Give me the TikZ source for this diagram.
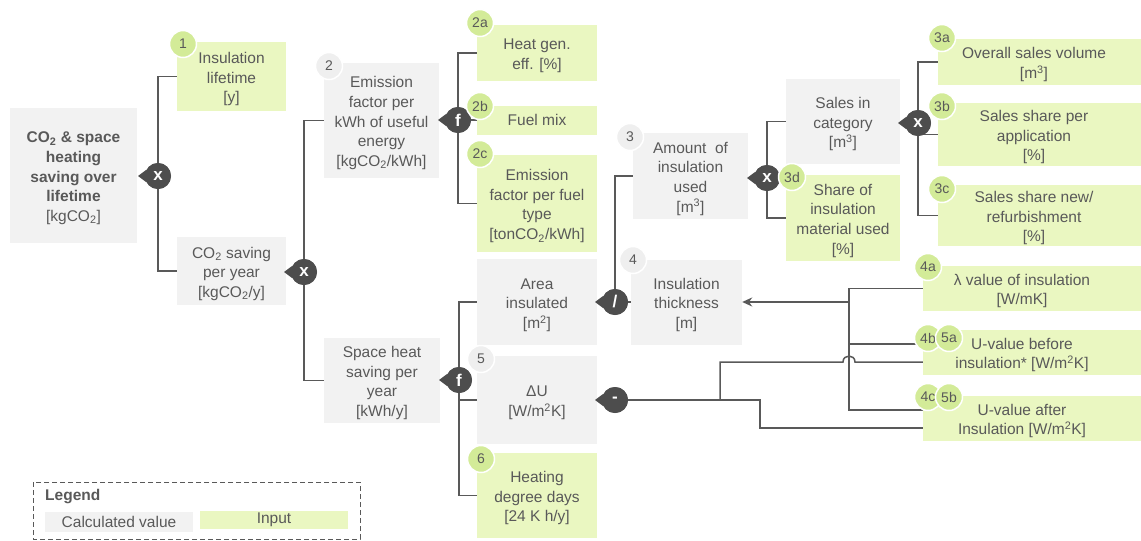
\documentclass[tikz,border=0pt]{standalone}
\usepackage{fontspec}
\setmainfont{Liberation Sans}
\usetikzlibrary{arrows.meta}
\definecolor{txt}{HTML}{595959}
\definecolor{grayfill}{HTML}{F2F2F2}
\definecolor{greenfill}{HTML}{EAF7C1}
\definecolor{badgegreen}{HTML}{D3EB98}
\definecolor{badgegray}{HTML}{EFEFEF}
\definecolor{opfill}{HTML}{4D4D4D}
\definecolor{linec}{HTML}{595959}
\newcommand{\sbs}[1]{\textsubscript{#1}}
\newcommand{\sps}[1]{\textsuperscript{#1}}
\newcommand{\tstrut}{\rule{0pt}{16.5pt}}
\begin{document}
\begin{tikzpicture}[x=1pt,y=-1pt,
  every node/.style={font=\fontsize{15.5}{19.6}\selectfont, text=txt},
  calcbox/.style={fill=grayfill, align=center, inner sep=0pt},
  inbox/.style={fill=greenfill, align=center, inner sep=0pt},
  conn/.style={draw=linec, line width=1.5pt},
  opnode/.style={circle, fill=opfill, text=white, minimum size=26pt, inner sep=0pt, font=\fontsize{17}{17}\selectfont\bfseries},
  badge/.style={circle, fill=badgegreen, draw=white, line width=1.5pt, minimum size=27pt, inner sep=0pt, font=\fontsize{14}{14}\selectfont},
  badgeg/.style={badge, fill=badgegray},
]
\useasboundingbox (0,0) rectangle (1141,541);

% ---------- boxes ----------
\node[calcbox, minimum width=127pt, minimum height=135pt] (main) at (73.5,175.5)
  {\tstrut\textbf{CO\sbs{2} \& space}\\\textbf{heating}\\\textbf{saving over}\\\textbf{lifetime}\\{}[kgCO\sbs{2}]};
\node[inbox, minimum width=109pt, minimum height=69pt] (b1) at (231.5,76.5) {\tstrut Insulation\\lifetime\\{}[y]};
\node[calcbox, minimum width=109pt, minimum height=68pt] (co2y) at (231.5,271) {\tstrut CO\sbs{2} saving\\per year\\{}[kgCO\sbs{2}/y]};
\node[calcbox, minimum width=115pt, minimum height=115pt] (b2) at (381.5,120.5) {\tstrut Emission\\factor per\\kWh of useful\\energy\\{}[kgCO\sbs{2}/kWh]};
\node[inbox, minimum width=120pt, minimum height=56pt] (b2a) at (537,53) {\tstrut Heat gen.\\eff. [\%]};
\node[inbox, minimum width=120pt, minimum height=29pt] (b2b) at (537,120) {Fuel mix};
\node[inbox, minimum width=120pt, minimum height=97pt] (b2c) at (537,203.5) {\tstrut Emission\\factor per fuel\\type\\{}[tonCO\sbs{2}/kWh]};
\node[calcbox, minimum width=116pt, minimum height=85pt] (shs) at (382,380.5) {\tstrut Space heat\\saving per\\year\\{}[kWh/y]};
\node[calcbox, minimum width=120pt, minimum height=86pt] (area) at (537,302) {\tstrut Area\\insulated\\{}[m\sps{2}]};
\node[calcbox, minimum width=120pt, minimum height=88pt] (dU) at (537,400) {\tstrut ΔU\\{}[W/m\sps{2}K]};
\node[inbox, minimum width=120pt, minimum height=85pt] (hdd) at (537,495.5) {\tstrut Heating\\degree days\\{}[24 K h/y]};
\node[calcbox, minimum width=115pt, minimum height=86pt] (b3) at (690.5,176) {\tstrut Amount \ of\\insulation\\used\\{}[m\sps{3}]};
\node[calcbox, minimum width=111pt, minimum height=85pt] (b4) at (686.5,302) {\tstrut Insulation\\thickness\\{}[m]};
\node[calcbox, minimum width=114pt, minimum height=85pt] (sic) at (843,121.5) {\tstrut Sales in\\category\\{}[m\sps{3}]};
\node[inbox, minimum width=114pt, minimum height=86pt] (b3d) at (843,218) {\tstrut Share of\\insulation\\material used\\{}[\%]};
\node[inbox, minimum width=192pt, minimum height=46pt] (b3a) at (1034,62) {\tstrut Overall sales volume\\{}[m\sps{3}]};
\node[inbox, minimum width=192pt, minimum height=63pt] (b3b) at (1034,134.5) {\tstrut Sales share per\\application\\{}[\%]};
\node[inbox, minimum width=192pt, minimum height=61pt] (b3c) at (1034,215.5) {\tstrut Sales share new/\\refurbishment\\{}[\%]};
\node[inbox, minimum width=198pt, minimum height=45pt] (b4a) at (1022,288.5) {\tstrut λ value of insulation\\{}[W/mK]};
\node[inbox, minimum width=198pt, minimum height=45pt] (b4b) at (1022,352.5) {\tstrut U-value before\\insulation* [W/m\sps{2}K]};
\node[inbox, minimum width=198pt, minimum height=45pt] (b4c) at (1022,418.5) {\tstrut U-value after\\Insulation [W/m\sps{2}K]};
% extend right-hand inputs to the page edge
\foreach \b in {b3a,b3b,b3c,b4a,b4b,b4c}
  \fill[greenfill] ([xshift=-0.5pt]\b.north east) rectangle ([xshift=40pt]\b.south east);

% ---------- operators ----------
\node[opnode] (o1) at (158,176) {x};
\node[opnode] (o2) at (304,272) {x};
\node[opnode] (o3) at (458,120) {f};
\node[opnode] (o4) at (459,380) {f};
\node[opnode] (o5) at (767,178) {x};
\node[opnode] (o6) at (918,123) {x};
\node[opnode] (o7) at (615,302) {/};
\node[opnode] (o8) at (615,400) {-};

% ---------- connectors ----------
\draw[conn] (b1.west) -| (o1.center) |- (co2y.west);
\draw[conn] (b2.west) -| (o2.center) |- (shs.west);
\draw[conn] (b2a.west) -| (o3.center) |- (b2c.west);
\draw[conn] (o3.center) -- (b2b.west);
\draw[conn] (area.west) -| (o4.center) |- (hdd.west);
\draw[conn] (dU.west) -- (dU.west -| o4.center);
\draw[conn] (sic.west) -| (o5.center) |- (b3d.west);
\draw[conn] (b3a.west) -| (o6.center) |- (b3c.west);
\draw[conn] (b3b.west) -- (b3b.west -| o6.center);
\draw[conn] (b3.west) -| (o7.center);
\draw[conn] (o7.center) -- (b4.west);

\coordinate (j) at (849,302);
\coordinate (u4b) at ([yshift=8.5pt]b4b.west);
\coordinate (u4c) at ([yshift=8.5pt]b4c.west);
\coordinate (d4b) at ([yshift=-9.5pt]b4b.west);
\coordinate (d4c) at ([yshift=-9.5pt]b4c.west);
\coordinate (m1) at (720,400);
\coordinate (m2) at (760,400);
\coordinate (h1) at ([xshift=-6pt]d4b -| j);
\coordinate (h2) at ([xshift=6pt]d4b -| j);
\draw[conn] (b4a.west) -| (j |- u4c) -- (u4c);
\draw[conn] (u4b) -- (u4b -| j);
\draw[conn, line width=2pt, -{Stealth[length=10pt,width=9pt]}] (j) -- (b4.east);
\draw[conn] (o8.center) -- (m2) |- (d4c);
\draw[conn] (m1) |- (h1) .. controls ([yshift=8pt]h1) and ([yshift=8pt]h2) .. (h2) -- (d4b);

% operator pointers and circles on top
\foreach \o in {o1,o2,o3,o4,o5,o6,o7,o8}
  \fill[opfill] ([xshift=-20pt]\o.center) -- (\o.152) -- (\o.208) -- cycle;
\node[opnode] at (o1) {x};
\node[opnode] at (o2) {x};
\node[opnode] at (o3) {f};
\node[opnode] at (o4) {f};
\node[opnode] at (o5) {x};
\node[opnode] at (o6) {x};
\node[opnode] at (o7) {/};
\node[opnode] at (o8) {-};

% ---------- badges ----------
\node[badge] (n1) at (183,44) {1};
\node[badgeg] (n2) at (329,66) {2};
\node[badge] (n2a) at (480,23) {2a};
\node[badge] (n2b) at (480,106) {2b};
\node[badge] (n2c) at (480,154) {2c};
\node[badgeg] (n3) at (630,137) {3};
\node[badge] (n3d) at (792,177) {3d};
\node[badge] (n3a) at (942,38) {3a};
\node[badge] (n3b) at (942,106) {3b};
\node[badge] (n3c) at (942,189) {3c};
\node[badgeg] (n4) at (633,260) {4};
\node[badgeg] (n5) at (481,359) {5};
\node[badge] (n6) at (481,459) {6};
\node[badge] (n4a) at (928,267) {4a};
\node[badge] (n4b) at (928,338) {4b};
\node[badge] (n5a) at (949,338) {5a};
\node[badge] (n4c) at (928,397) {4c};
\node[badge] (n5b) at (949,397) {5b};

% ---------- legend ----------
\draw[draw=linec, line width=1pt, dash pattern=on 5pt off 3pt] (33,482) rectangle (360,539);
\node[anchor=west, inner sep=0pt, font=\fontsize{15.5}{19.6}\selectfont\bfseries] (lg) at (45,497) {Legend};
\node[calcbox, minimum width=148pt, minimum height=20pt] (lgc) at (119,522) {Calculated value};
\node[inbox, minimum width=148pt, minimum height=18pt] (lgi) at (274,520) {Input};
\end{tikzpicture}
\end{document}
